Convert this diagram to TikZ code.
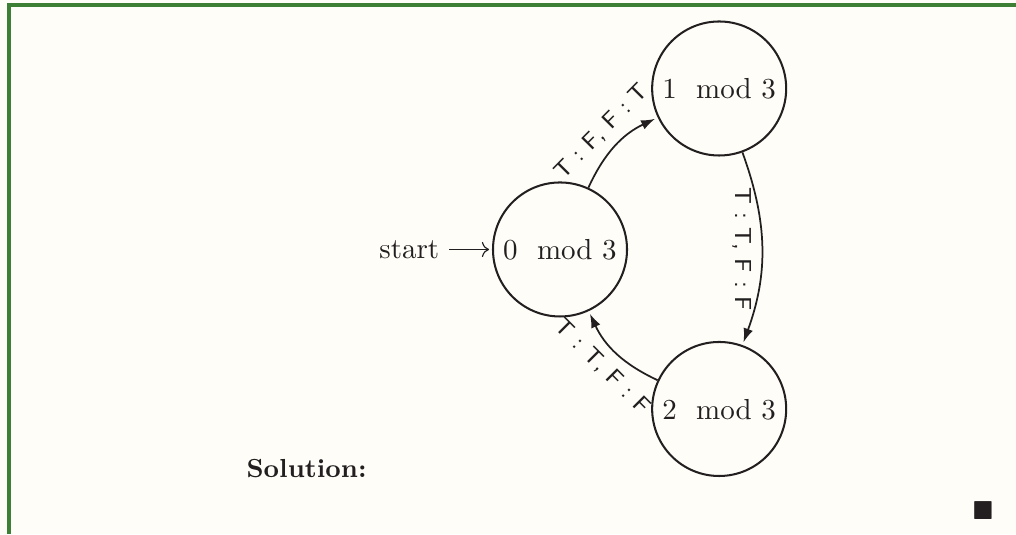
\documentclass[tikz,border=0pt]{standalone}
\usepackage{amsmath,amssymb}
\usetikzlibrary{arrows.meta}
\definecolor{framegreen}{RGB}{61,127,53}
\definecolor{paper}{RGB}{254,253,248}
\definecolor{ink}{RGB}{35,31,32}
\tikzset{modstate/.style = {circle, draw, line width=0.7pt, minimum size=1.625cm, inner sep=0pt},
         trans/.style = {-{Latex[length=4.8pt,width=3.4pt]}, line width=0.6pt, shorten >=1pt},
         translabel/.style = {font=\sffamily\footnotesize, sloped}}

\begin{document}
\begin{tikzpicture}[color=ink]
			\useasboundingbox (0,0) rectangle (12.319,-6.475);
			\fill [paper] (0,0) rectangle (12.319,-6.475);
			\draw [framegreen, line width=1.2pt] (0.1115,-6.475) -- (0.1115,-0.0606) -- (12.319,-0.0606);
			\node [modstate] (0) at (6.79, -3.025) {$0 \mod 3$};
			\node [modstate] (1) at (8.72, -1.073) {$1 \mod 3$};
			\node [modstate] (2) at (8.72, -4.959) {$2 \mod 3$};
			\node [anchor=east] (start) at (5.45, -3.025) {start};
			\draw [->, shorten >=1pt] (start) to (0);
			\draw [trans, bend left=20] (0) to node [translabel, above] {T : F, F : T} (1);
			\draw [trans, bend left=20] (1) to node [translabel, below] {T : T, F : F} (2);
			\draw [trans, bend left=20] (2) to node [translabel, below] {T : T, F : F} (0);
			\node [font=\fontsize{9}{11}\selectfont\bfseries, anchor=base west, inner sep=0pt] (solution) at (2.983, -5.784) {Solution:};
			\node [inner sep=0pt, font=\fontsize{9}{11}\selectfont] (qed) at (11.919, -6.19) {$\blacksquare$};
		\end{tikzpicture}
\end{document}
